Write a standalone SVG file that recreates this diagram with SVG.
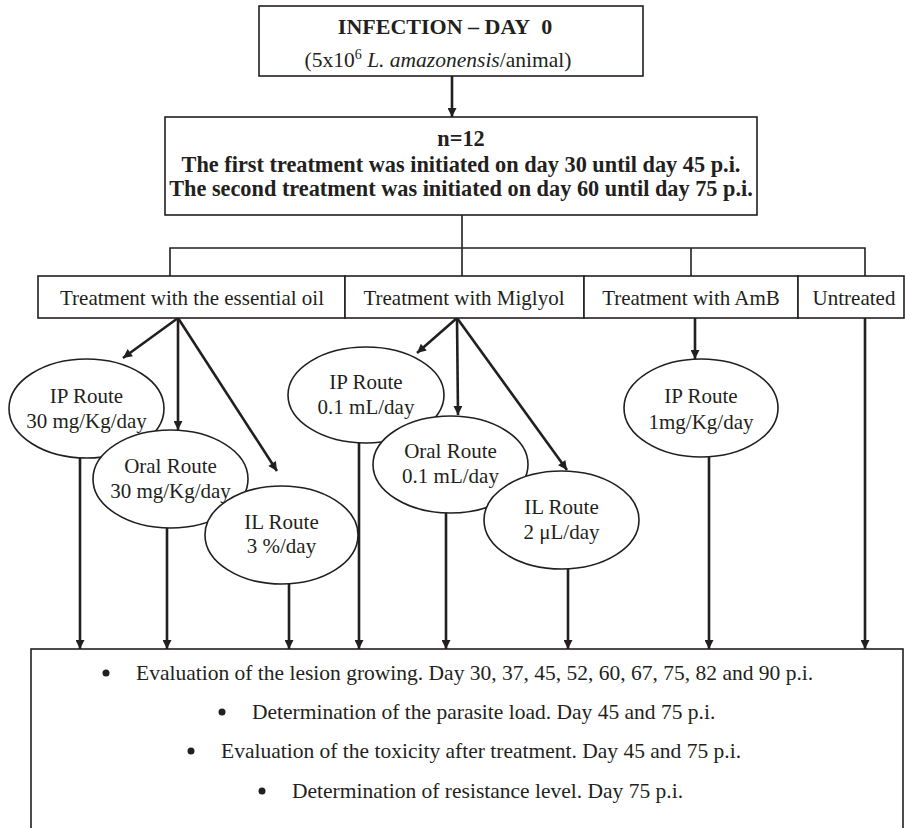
<svg xmlns="http://www.w3.org/2000/svg" width="905" height="828" viewBox="0 0 905 828">
<defs>
<marker id="ah" viewBox="0 0 10 10" refX="10" refY="5" markerWidth="11" markerHeight="9" markerUnits="userSpaceOnUse" orient="auto">
<path d="M0,0 L10,5 L0,10 Z" fill="#231f20"/>
</marker>
</defs>
<style>
text{font-family:"Liberation Serif","Times New Roman",serif;fill:#231f20;font-size:21px}
.b{font-weight:bold;font-size:22.3px}
.t{font-size:21.5px}
.box{fill:#fff;stroke:#231f20;stroke-width:1.6}
.ell{fill:#fff;stroke:#231f20;stroke-width:1.6}
.thin{fill:none;stroke:#231f20;stroke-width:1.6}
.arr{fill:none;stroke:#231f20;stroke-width:2.6;marker-end:url(#ah)}
.c{text-anchor:middle}
</style>
<rect width="905" height="828" fill="#fff"/>
<g id="connectors">
<line class="arr" x1="452" y1="76" x2="452" y2="117"/>
<polyline class="thin" points="462,215 462,276"/>
<polyline class="thin" points="170,276 170,248 865,248 865,276"/>
<line class="thin" x1="691" y1="248" x2="691" y2="276"/>
<line class="arr" x1="178" y1="318" x2="123" y2="358"/>
<line class="arr" x1="178" y1="318" x2="178" y2="430"/>
<line class="arr" x1="178" y1="318" x2="277" y2="471"/>
<line class="arr" x1="457" y1="318" x2="417" y2="353"/>
<line class="arr" x1="457" y1="318" x2="458" y2="415"/>
<line class="arr" x1="457" y1="318" x2="567" y2="470"/>
<line class="arr" x1="695" y1="318" x2="695" y2="359"/>
<line class="arr" x1="80" y1="457" x2="80" y2="649"/>
<line class="arr" x1="167" y1="527" x2="167" y2="649"/>
<line class="arr" x1="289" y1="583" x2="289" y2="649"/>
<line class="arr" x1="359" y1="441" x2="359" y2="649"/>
<line class="arr" x1="446" y1="512" x2="446" y2="649"/>
<line class="arr" x1="568" y1="568" x2="568" y2="649"/>
<line class="arr" x1="709" y1="456" x2="709" y2="649"/>
<line class="arr" x1="865" y1="318" x2="865" y2="649"/>
</g>
<g id="infection">
<rect class="box" x="259" y="6" width="384" height="70"/>
<text class="b c" x="445" y="34" style="font-size:22px">INFECTION – DAY&#160; 0</text>
<text class="c t" x="438" y="67">(5x10<tspan font-size="14" dy="-8">6</tspan><tspan dy="8"> </tspan><tspan font-style="italic">L. amazonensis</tspan>/animal)</text>
</g>
<g id="groups">
<rect class="box" x="165" y="117" width="592" height="98"/>
<text class="b c" x="461" y="146">n=12</text>
<text class="b c" x="461" y="172">The first treatment was initiated on day 30 until day 45 p.i.</text>
<text class="b c" x="461" y="196">The second treatment was initiated on day 60 until day 75 p.i.</text>
</g>
<g id="essential-oil">
<rect class="box" x="38" y="276" width="307" height="42"/>
<text class="c" x="192" y="305">Treatment with the essential oil</text>
</g>
<g id="miglyol">
<rect class="box" x="345" y="276" width="239" height="42"/>
<text class="c" x="464" y="305">Treatment with Miglyol</text>
</g>
<g id="amb">
<rect class="box" x="584" y="276" width="214" height="42"/>
<text class="c" x="691" y="305">Treatment with AmB</text>
</g>
<g id="untreated">
<rect class="box" x="798" y="276" width="106" height="42"/>
<text class="c" x="854" y="305">Untreated</text>
</g>
<g id="oil-ip">
<ellipse class="ell" cx="86.5" cy="408.5" rx="77.5" ry="49.5"/>
<text class="c" x="86.5" y="403">IP Route</text>
<text class="c" x="86.5" y="428">30 mg/Kg/day</text>
</g>
<g id="oil-oral">
<ellipse class="ell" cx="170.5" cy="479" rx="77.5" ry="49"/>
<text class="c" x="170.5" y="473">Oral Route</text>
<text class="c" x="170.5" y="498">30 mg/Kg/day</text>
</g>
<g id="oil-il">
<ellipse class="ell" cx="281.5" cy="535" rx="76.5" ry="49"/>
<text class="c" x="281.5" y="529">IL Route</text>
<text class="c" x="281.5" y="553">3 %/day</text>
</g>
<g id="mig-ip">
<ellipse class="ell" cx="366" cy="395" rx="78" ry="48"/>
<text class="c" x="366" y="389">IP Route</text>
<text class="c" x="366" y="414">0.1 mL/day</text>
</g>
<g id="mig-oral">
<ellipse class="ell" cx="450.5" cy="464.5" rx="77.5" ry="48.5"/>
<text class="c" x="450.5" y="458">Oral Route</text>
<text class="c" x="450.5" y="483">0.1 mL/day</text>
</g>
<g id="mig-il">
<ellipse class="ell" cx="561.5" cy="520" rx="77.5" ry="49"/>
<text class="c" x="561.5" y="514">IL Route</text>
<text class="c" x="561.5" y="539">2 μL/day</text>
</g>
<g id="amb-ip">
<ellipse class="ell" cx="701" cy="408" rx="77" ry="49"/>
<text class="c" x="701" y="403">IP Route</text>
<text class="c" x="701" y="429">1mg/Kg/day</text>
</g>
<g id="evaluation">
<rect class="box" x="31" y="649" width="872" height="200"/>
<circle cx="106" cy="673" r="3.5" fill="#231f20"/>
<text class="t" x="136" y="680">Evaluation of the lesion growing. Day 30, 37, 45, 52, 60, 67, 75, 82 and 90 p.i.</text>
<circle cx="222" cy="712" r="3.5" fill="#231f20"/>
<text class="t" x="252" y="719">Determination of the parasite load. Day 45 and 75 p.i.</text>
<circle cx="191" cy="751" r="3.5" fill="#231f20"/>
<text class="t" x="221" y="758">Evaluation of the toxicity after treatment. Day 45 and 75 p.i.</text>
<circle cx="262" cy="791" r="3.5" fill="#231f20"/>
<text class="t" x="292" y="798">Determination of resistance level. Day 75 p.i.</text>
</g>
</svg>
